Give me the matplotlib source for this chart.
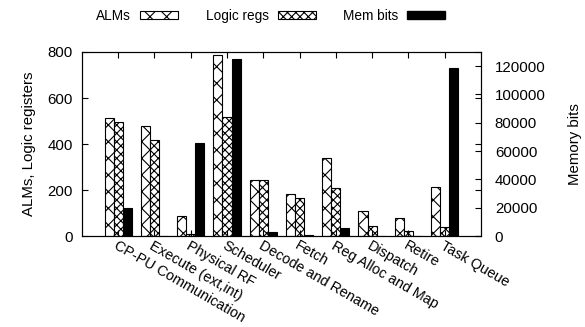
import numpy as np
import matplotlib
matplotlib.use("Agg")
import matplotlib.pyplot as plt
from matplotlib.patches import Patch

plt.rcParams["font.family"] = ["Liberation Sans", "DejaVu Sans"]
plt.rcParams["font.size"] = 10.8
plt.rcParams["hatch.linewidth"] = 0.8

# Resource usage per pipeline unit
units = ["CP-PU Communication", "Execute (ext,int)", "Physical RF", "Scheduler",
         "Decode and Rename", "Fetch", "Reg Alloc and Map", "Dispatch",
         "Retire", "Task Queue"]
alms = [512, 477, 87, 787, 242, 181, 338, 110, 77, 213]
logic_regs = [494, 417, 10, 516, 242, 164, 207, 43, 22, 38]
mem_bits = [19800, 300, 65600, 125000, 2600, 1000, 5400, 0, 0, 118600]

x = np.arange(len(units))
w = 0.25
hatch_alm = "xx"
hatch_reg = "xxxx"

fig, ax = plt.subplots(figsize=(5.85, 3.27), dpi=100)
ax2 = ax.twinx()

ax.bar(x - w, alms, w, color="white", edgecolor="black", hatch=hatch_alm,
       linewidth=0.8, label="ALMs")
ax.bar(x, logic_regs, w, color="white", edgecolor="black", hatch=hatch_reg,
       linewidth=0.8, label="Logic regs")
ax2.bar(x + w, mem_bits, w, color="black", edgecolor="black",
        linewidth=0.8, label="Mem bits")

ax.set_xlim(-1, 10)
ax.set_ylim(0, 800)
ax.set_yticks([0, 200, 400, 600, 800])
ax2.set_ylim(0, 130000)
ax2.set_yticks(np.arange(0, 120001, 20000))

ax.set_xticks(x)
ax.set_xticklabels(units, rotation=-30, ha="left", rotation_mode="anchor",
                   fontsize=10.4)
ax.tick_params(axis="x", direction="in", top=True, length=4, pad=2)
ax.tick_params(axis="y", direction="in", right=True, length=4, pad=6.5)
ax2.tick_params(axis="y", direction="in", length=4, pad=10)

ax.set_ylabel("ALMs, Logic registers", labelpad=8)
ax2.set_ylabel("Memory bits", labelpad=16)

handles = [Patch(facecolor="white", edgecolor="black", hatch=hatch_alm, linewidth=0.8),
           Patch(facecolor="white", edgecolor="black", hatch=hatch_reg, linewidth=0.8),
           Patch(facecolor="black", edgecolor="black")]
fig.legend(handles, ["ALMs", "Logic regs", "Mem bits"], ncol=3,
           loc="center", bbox_to_anchor=(0.463, 0.951), frameon=False,
           fontsize=9.8, markerfirst=False, handlelength=2.8,
           handleheight=0.5, handletextpad=0.66, columnspacing=2.0)

fig.subplots_adjust(left=0.14, right=0.822, top=0.841, bottom=0.278)
fig.savefig("out.png", dpi=100)
